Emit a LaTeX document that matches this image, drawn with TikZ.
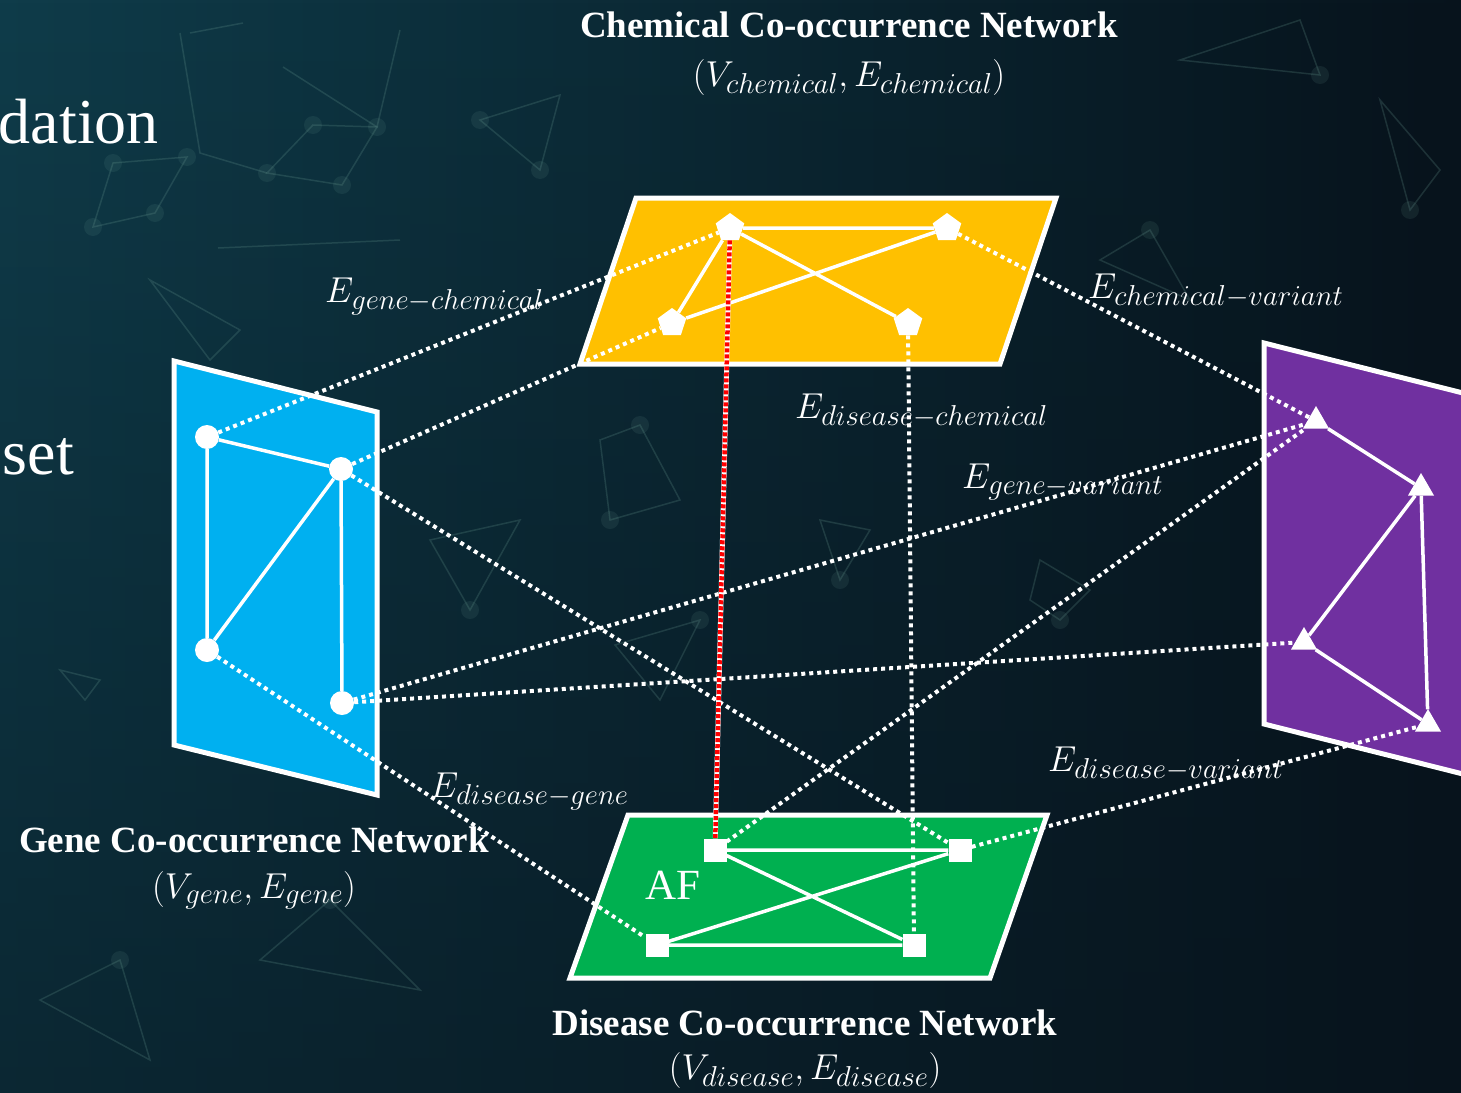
\RequirePackage{fix-cm}
\documentclass[tikz,border=0pt]{standalone}
\usepackage{fontspec}
\usepackage{tikz}
\usetikzlibrary{shapes.geometric, fadings}
\newfontfamily\timesfont{Liberation Serif}
\renewcommand\defaultscriptratio{.8}
\definecolor{bgTeal}{RGB}{15, 60, 74}
\definecolor{bgDark}{RGB}{7, 19, 28}
\definecolor{bgNet}{RGB}{110, 160, 150}
\definecolor{chemYellow}{RGB}{255, 192, 0}
\definecolor{geneBlue}{RGB}{0, 176, 240}
\definecolor{varPurple}{RGB}{112, 48, 160}
\definecolor{disGreen}{RGB}{0, 176, 80}
\definecolor{linkRed}{RGB}{255, 0, 0}

\begin{document}
\begin{tikzpicture}[x=1pt, y=-1pt,
  layer/.style={draw=white, line width=5pt, line join=miter},
  inner/.style={white, line width=3.5pt},
  link/.style={white, line width=4pt, dash pattern=on 4pt off 4pt},
  redlink/.style={linkRed, line width=4.5pt, dash pattern=on 4pt off 2pt},
  bgnet/.style={bgNet, line width=1.5pt, opacity=.22},
  vchem/.style={regular polygon, regular polygon sides=5, fill=white, inner sep=0pt, minimum size=30pt},
  vgene/.style={circle, fill=white, inner sep=0pt, minimum size=24pt},
  vvar/.style={regular polygon, regular polygon sides=3, fill=white, inner sep=0pt, minimum size=30pt},
  vdis/.style={rectangle, fill=white, inner sep=0pt, minimum size=23pt},
  title/.style={text=white, font=\timesfont\bfseries\fontsize{37}{40}\selectfont, anchor=base, inner sep=0pt},
  pair/.style={text=white, font=\fontsize{36}{40}\selectfont, anchor=base, inner sep=0pt},
  elabel/.style={text=white, font=\fontsize{36}{40}\selectfont, anchor=base west, inner sep=0pt},
  slide/.style={text=white, font=\timesfont\fontsize{64}{70}\selectfont, anchor=base east, inner sep=0pt}]

  % background
  \useasboundingbox (0,0) rectangle (1461,1092);
  \clip (0,0) rectangle (1461,1092);
  \shade[left color=bgTeal, right color=bgDark] (0,0) rectangle (1461,1092);
  \fill[bgDark, path fading=north, fill opacity=.5] (0,0) rectangle (1461,1092);

  % faint network in the background
  \draw[bgnet] (113,163) -- (187,157) -- (155,213) -- (93,227) -- cycle;
  \draw[bgnet] (313,125) -- (377,127) -- (342,185) -- (267,173) -- cycle;
  \draw[bgnet] (180,33) -- (200,153) -- (267,173);
  \draw[bgnet] (190,33) -- (243,23);
  \draw[bgnet] (283,67) -- (377,127) -- (400,30);
  \draw[bgnet] (218,248) -- (400,240);
  \draw[bgnet] (480,120) -- (560,95) -- (540,170) -- cycle;
  \draw[bgnet] (150,280) -- (240,330) -- (210,360) -- cycle;
  \draw[bgnet] (600,440) -- (640,425) -- (680,500) -- (610,520) -- cycle;
  \draw[bgnet] (615,645) -- (700,620) -- (660,700) -- cycle;
  \draw[bgnet] (820,520) -- (870,530) -- (840,580) -- cycle;
  \draw[bgnet] (1040,560) -- (1090,590) -- (1060,620) -- (1030,600) -- cycle;
  \draw[bgnet] (1100,260) -- (1150,230) -- (1190,300) -- cycle;
  \draw[bgnet] (1180,60) -- (1300,20) -- (1320,75) -- cycle;
  \draw[bgnet] (1380,100) -- (1440,170) -- (1410,210) -- cycle;
  \draw[bgnet] (60,670) -- (100,680) -- (85,700) -- cycle;
  \draw[bgnet] (260,960) -- (330,900) -- (420,990) -- cycle;
  \draw[bgnet] (40,1000) -- (120,960) -- (150,1060) -- cycle;
  \draw[bgnet] (430,540) -- (520,520) -- (470,610) -- cycle;
  \foreach \p in {(113,163),(187,157),(155,213),(93,227),(313,125),(377,127),(342,185),
                  (267,173),(480,120),(540,170),(640,425),(610,520),(700,620),(840,580),
                  (1060,620),(1150,230),(1320,75),(1410,210),(330,900),(120,960),(470,610)}
    \fill[bgNet, opacity=.12] \p circle (9pt);

  % left-edge slide text
  \node[slide] (dation) at (159,143) {dation};
  \node[slide] (set) at (74,474) {set};

  % layers
  \filldraw[layer, fill=chemYellow] (636,198) -- (1056,198) -- (1000,364) -- (580,364) -- cycle;
  \filldraw[layer, fill=geneBlue] (174,361) -- (377,412) -- (377,795) -- (174,745) -- cycle;
  \filldraw[layer, fill=varPurple] (1264,343) -- (1467,394) -- (1467,775) -- (1264,724) -- cycle;
  \filldraw[layer, fill=disGreen] (628,815) -- (1047,815) -- (990,978) -- (570,978) -- cycle;

  % chemical nodes
  \node[vchem] (p1) at (730,228) {};
  \node[vchem] (p2) at (947,228) {};
  \node[vchem] (p3) at (672,323) {};
  \node[vchem] (p4) at (908,323) {};
  % gene nodes
  \node[vgene] (g1) at (207,437) {};
  \node[vgene] (g2) at (341,469) {};
  \node[vgene] (g3) at (207,650) {};
  \node[vgene] (g4) at (342,703) {};
  % variant nodes
  \node[vvar] (v1) at (1316,421) {};
  \node[vvar] (v2) at (1421,488) {};
  \node[vvar] (v3) at (1304,642) {};
  \node[vvar] (v4) at (1428,724) {};
  % disease nodes
  \node[vdis] (s1) at (715,850) {};
  \node[vdis] (s2) at (960,850) {};
  \node[vdis] (s3) at (657,945) {};
  \node[vdis] (s4) at (914,945) {};

  % edges within each network
  \draw[inner] (p1) -- (p2) (p1) -- (p3) (p1) -- (p4) (p2) -- (p3);
  \draw[inner] (g1) -- (g2) (g1) -- (g3) (g2) -- (g3) (g2) -- (g4);
  \draw[inner] (v1) -- (v2) (v2) -- (v3) (v3) -- (v4) (v2) -- (v4);
  \draw[inner] (s1) -- (s2) (s3) -- (s4) (s1) -- (s4) (s2) -- (s3);

  \node[text=white, font=\timesfont\fontsize{43}{46}\selectfont, anchor=base west, inner sep=0pt] (af) at (645,899) {AF};

  % titles
  \node[title] (chemTitle) at (849,37) {Chemical Co-occurrence Network};
  \node[pair] (chemPair) at (849,86) {$(V_{chemical},E_{chemical})$};
  \node[title] (geneTitle) at (254,852) {Gene Co-occurrence Network};
  \node[pair] (genePair) at (254,898) {$(V_{gene},E_{gene})$};
  \node[title] (disTitle) at (805,1035) {Disease Co-occurrence Network};
  \node[pair] (disPair) at (805,1079) {$(V_{disease},E_{disease})$};

  % edge labels
  \node[elabel] (lGC) at (325,302) {$E_{gene-chemical}$};
  \node[elabel] (lCV) at (1088,298) {$E_{chemical-variant}$};
  \node[elabel] (lDC) at (795,418) {$E_{disease-chemical}$};
  \node[elabel] (lGV) at (962,488) {$E_{gene-variant}$};
  \node[elabel] (lDG) at (430,797) {$E_{disease-gene}$};
  \node[elabel] (lDV) at (1048,771) {$E_{disease-variant}$};

  % links between networks
  \draw[link] (g1) -- (p1);
  \draw[link] (g2) -- (p3);
  \draw[link] (g2) -- (s2);
  \draw[link] (g3) -- (s3);
  \draw[link] (g4) -- (v1);
  \draw[link] (g4) -- (v3);
  \draw[link] (s1) -- (v1);
  \draw[link] (s2) -- (v4);
  \draw[link] (p2) -- (v1);
  \draw[link] (p4) -- (s4);
  \draw[white, line width=5pt] (p1) -- (s1);
  \draw[redlink] (p1) -- (s1);
\end{tikzpicture}
\end{document}
